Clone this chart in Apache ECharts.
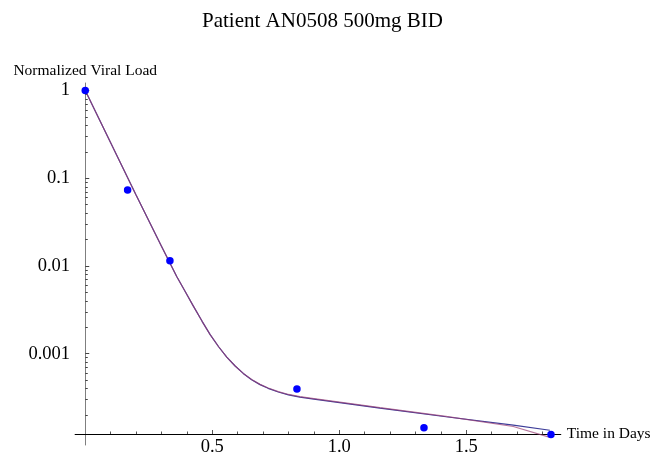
<!DOCTYPE html>
<html>
<head>
<meta charset="utf-8">
<script src="https://cdn.jsdelivr.net/npm/echarts@6/dist/echarts.min.js"></script>
<style>html,body{margin:0;padding:0;background:#fff}#c{width:661px;height:457px}</style>
</head>
<body>
<div id="c"></div>
<script>
// Measured data (days, normalized viral load)
const times = [0, 0.1667, 0.3333, 0.8333, 1.3333, 1.8333];
const loads = [1, 0.0734, 0.0115, 0.000396, 0.000143, 0.000120];
// Fitted model curves
const fitT = [0, 0.1, 0.2, 0.3, 0.36, 0.395, 0.425, 0.46, 0.491, 0.525, 0.557, 0.59, 0.622, 0.655, 0.688, 0.72, 0.76, 0.8, 0.845, 0.9, 1.16, 1.42, 1.685, 1.829];
const fitRed = [1, 0.254, 0.0646, 0.0168, 0.00759, 0.00501, 0.00351, 0.00234, 0.00166, 0.00120, 0.000912, 0.000724, 0.000596, 0.000507, 0.000447, 0.000407, 0.000370, 0.000343, 0.000324, 0.000308, 0.000243, 0.000193, 0.000148, 0.000111];
const fitBlue = [1, 0.254, 0.0646, 0.0168, 0.00759, 0.00501, 0.00351, 0.00234, 0.00166, 0.00120, 0.000912, 0.000724, 0.000596, 0.000505, 0.000444, 0.000403, 0.000366, 0.000339, 0.000320, 0.000304, 0.000240, 0.000191, 0.000153, 0.000134];
// Ticks
const xMajor = [0.5, 1.0, 1.5];
const xMinor = [0.1, 0.2, 0.3, 0.4, 0.6, 0.7, 0.8, 0.9, 1.1, 1.2, 1.3, 1.4, 1.6, 1.7, 1.8];
const yMajor = [1, 0.1, 0.01, 0.001];
const yMinor = [0.0002, 0.0003, 0.0004, 0.0005, 0.0006, 0.0007, 0.0008, 0.0009,
                0.002, 0.003, 0.004, 0.005, 0.006, 0.007, 0.008, 0.009,
                0.02, 0.03, 0.04, 0.05, 0.06, 0.07, 0.08, 0.09,
                0.2, 0.3, 0.4, 0.5, 0.6, 0.7, 0.8, 0.9];

const FONT = 'Liberation Serif';
const X_MIN = -0.04, X_MAX = 1.872;
const Y_MIN = 9.1e-5, Y_MAX = 1.22;
const axisGray = '#7f7f7f';

const zip = (a, b) => a.map((v, i) => [v, b[i]]);

const chart = echarts.init(document.getElementById('c'), null, {renderer: 'canvas'});
chart.setOption({
  animation: false,
  backgroundColor: '#ffffff',
  title: {
    text: 'Patient AN0508 500mg BID',
    left: 197, top: 6,
    textStyle: {fontFamily: FONT, fontSize: 21, fontWeight: 'normal', color: '#000'}
  },
  grid: {left: 75.1, right: 100.2, top: 83, bottom: 10, containLabel: false},
  xAxis: [{
    type: 'value', min: X_MIN, max: X_MAX, position: 'bottom', offset: -11,
    name: 'Time in Days', nameLocation: 'end', nameGap: 6,
    nameTextStyle: {fontFamily: FONT, fontSize: 15.5, color: '#000', align: 'left', verticalAlign: 'middle'},
    axisLine: {onZero: false, lineStyle: {color: '#000', width: 1}},
    axisTick: {show: true, inside: true, length: 4, customValues: xMajor, lineStyle: {color: '#555'}},
    axisLabel: {customValues: xMajor, margin: 4, fontFamily: FONT, fontSize: 18.5, color: '#000',
                formatter: v => Number(v).toFixed(1)},
    splitLine: {show: false}
  }, {
    type: 'value', min: X_MIN, max: X_MAX, position: 'bottom', offset: -11,
    axisLine: {show: false, onZero: false},
    axisTick: {show: true, inside: true, length: 2.5, customValues: xMinor, lineStyle: {color: '#555'}},
    axisLabel: {show: false},
    splitLine: {show: false}
  }],
  yAxis: [{
    type: 'log', logBase: 10, min: Y_MIN, max: Y_MAX, position: 'left',
    name: 'Normalized Viral Load', nameLocation: 'end', nameGap: 4,
    nameTextStyle: {fontFamily: FONT, fontSize: 15.5, color: '#000', align: 'center', verticalAlign: 'bottom'},
    axisLine: {show: true, onZero: true, onZeroAxisIndex: 0, lineStyle: {color: axisGray, width: 1}},
    axisTick: {show: true, inside: true, length: 4, customValues: yMajor, lineStyle: {color: '#444'}},
    axisLabel: {customValues: yMajor, margin: 5, fontFamily: FONT, fontSize: 18.5, color: '#000',
                formatter: v => String(Number(Number(v).toPrecision(3)))},
    splitLine: {show: false}
  }, {
    type: 'log', logBase: 10, min: Y_MIN, max: Y_MAX, position: 'left',
    axisLine: {show: false, onZero: true, onZeroAxisIndex: 0},
    axisTick: {show: true, inside: true, length: 2.5, customValues: yMinor, lineStyle: {color: '#444'}},
    axisLabel: {show: false},
    splitLine: {show: false}
  }],
  series: [{
    name: 'fit2', type: 'line', data: zip(fitT, fitBlue), showSymbol: false, symbol: 'none',
    smooth: false,
    lineStyle: {color: '#3d3d99', width: 1.2}, z: 2
  }, {
    name: 'fit1', type: 'line', data: zip(fitT, fitRed), showSymbol: false, symbol: 'none',
    smooth: false,
    lineStyle: {color: '#993d74', width: 1.2, opacity: 0.7}, z: 3
  }, {
    name: 'data', type: 'scatter', data: zip(times, loads), symbol: 'circle', symbolSize: 7.5,
    itemStyle: {color: '#0000ff', opacity: 1}, z: 4
  }]
});
</script>
</body>
</html>
